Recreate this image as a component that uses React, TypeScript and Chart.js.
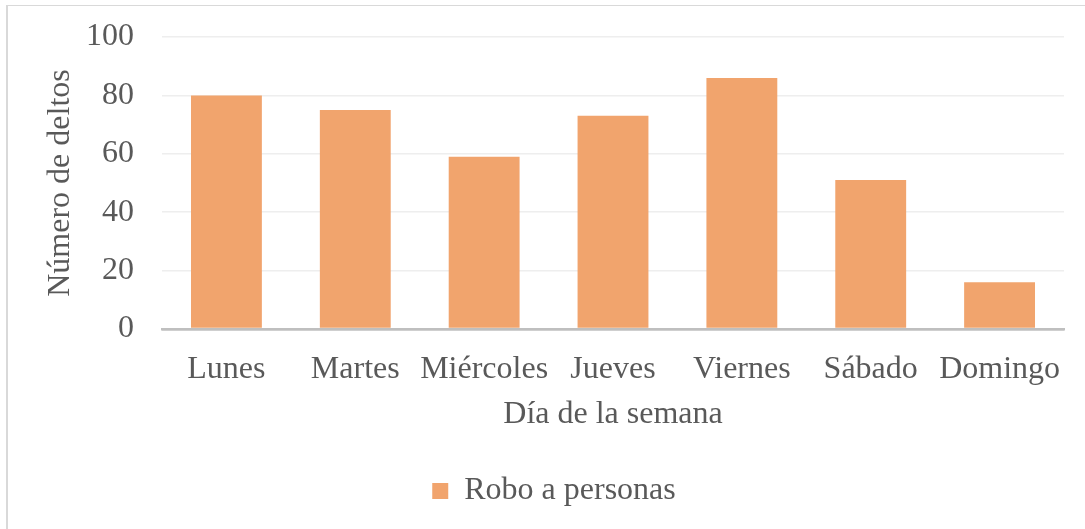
import React, { useEffect, useRef } from "react";
import { Chart, registerables } from "chart.js";

Chart.register(...registerables);

const categories = ["Lunes", "Martes", "Miércoles", "Jueves", "Viernes", "Sábado", "Domingo"];
const seriesName = "Robo a personas";
const values = [80, 75, 59, 73, 86, 51, 16];
const yTicks = [0, 20, 40, 60, 80, 100];
const yTitle = "Número de deltos";
const xTitle = "Día de la semana";

const FONT = "'Liberation Serif', 'Times New Roman', serif";
const TEXT = "#595959";
const BAR = "#F1A46D";
const FS = 32;

export default function App() {
  const ref = useRef<HTMLCanvasElement>(null);
  useEffect(() => {
    if (!ref.current) return;
    const shiftLegend = {
      id: "shiftLegend",
      afterLayout(chart: any) {
        const lg = chart.legend;
        if (lg) {
          lg.left += 18;
          lg.right += 18;
        }
      },
    };
    const chart = new Chart(ref.current, {
      type: "bar",
      data: {
        labels: categories,
        datasets: [
          {
            label: seriesName,
            data: values,
            backgroundColor: BAR,
            borderWidth: 0,
            categoryPercentage: 1,
            barPercentage: 0.55,
          },
        ],
      },
      plugins: [shiftLegend],
      options: {
        animation: false,
        responsive: false,
        layout: { padding: { left: 8, right: 21, top: 37, bottom: 12 } },
        plugins: {
          tooltip: { enabled: false },
          legend: {
            position: "bottom",
            labels: {
              boxWidth: 16,
              boxHeight: 16,
              color: TEXT,
              font: { family: FONT, size: FS },
              padding: 10,
            },
          },
        },
        scales: {
          x: {
            afterFit: (s: any) => {
              s.height = 136;
            },
            grid: { display: false },
            border: { display: true, color: "#bfbfbf", width: 2.5 },
            ticks: {
              color: TEXT,
              font: { family: FONT, size: FS },
              padding: 13,
              maxRotation: 0,
              autoSkip: false,
            },
            title: {
              display: true,
              text: xTitle,
              color: TEXT,
              font: { family: FONT, size: FS },
              padding: { top: 0, bottom: 31 },
            },
          },
          y: {
            min: 0,
            max: 100,
            afterFit: (s: any) => {
              s.width = 154;
            },
            afterBuildTicks: (s: any) => {
              s.ticks = yTicks.map((v) => ({ value: v }));
            },
            grid: {
              drawTicks: true,
              tickLength: 28,
              tickColor: "rgba(0,0,0,0)",
              color: (c: any) => (c.tick && c.tick.value === 0 ? "#bfbfbf" : "#eeeeee"),
              lineWidth: (c: any) => (c.tick && c.tick.value === 0 ? 2.5 : 1.5),
            },
            border: { display: false },
            ticks: {
              color: TEXT,
              font: { family: FONT, size: FS },
              padding: 0,
            },
            title: {
              display: true,
              text: yTitle,
              color: TEXT,
              font: { family: FONT, size: FS },
              padding: { top: 33, bottom: 0 },
            },
          },
        },
      },
    });
    return () => chart.destroy();
  }, []);
  return (
    <div style={{ position: "absolute", left: 0, top: 0, width: 1085, height: 529, background: "#fff", overflow: "hidden" }}>
      <div
        style={{
          position: "absolute",
          left: 6,
          top: 5,
          width: 1200,
          height: 700,
          borderLeft: "2px solid #d9d9d9",
          borderTop: "1.5px solid #d9d9d9",
        }}
      />
      <canvas ref={ref} width={1085} height={529} style={{ position: "absolute", left: 0, top: 0, width: 1085, height: 529 }} />
    </div>
  );
}
